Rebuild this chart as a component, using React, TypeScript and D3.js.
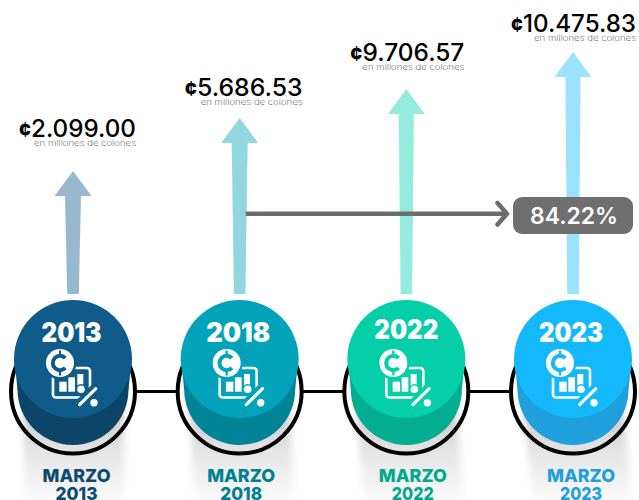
import React from "react";
import * as d3 from "d3";

// data
const years = ["2013", "2018", "2022", "2023"];
const amounts = [2099.0, 5686.53, 9706.57, 10475.83];
const amountLabels = ["2.099.00", "5.686.53", "9.706.57", "10.475.83"];
const unitLabel = "en millones de colones";
const monthLabel = "MARZO";
const growthLabel = "84.22%";

// colours per year
const topColors = ["#0f5c8a", "#02a3ba", "#04cfa9", "#14b9fb"];
const sideColors = ["#0d4568", "#018398", "#02ad90", "#1f9fdc"];
const arrowColors = ["#97b8cd", "#92d7e0", "#96ecdc", "#9ae2fd"];
const monthColors = ["#0d4a70", "#00808f", "#02a88c", "#1f9fdc"];

// layout tweaks, the original infographic is hand placed
const labelLift = [34, 22, 28, 20];
const labelShift = [63, 63, 58, 63];
const labelWidth = [117, 118, 114, 125];
const yearDy = [0, 0, -3, 0];
const yearDx = [-1.5, -1.5, 0, -2];
const monthShift = [3.5, 1.5, 6.5, 8];

const width = 639;
const height = 500;
const discY = 359;
const discR = 59;
const sideY = 389.5;
const sideR = 55.5;
const ringY = 391.5;
const ringR = 62;
const shaftBottom = 294;

const x = d3.scalePoint<string>().domain(years).range([73, 573]);
// arrows in the source are not to scale, so this is piecewise
const tipY = d3.scaleLinear().domain(amounts).range([171, 118, 89, 52]);
const line = d3.line();

function arrowPath(cx: number, tip: number, i: number) {
  const headH = 25;
  const headW = 18.5;
  const topW = i === 2 || i === 3 ? 7.6 : 8;
  const botW = 5.8;
  return (
    line([
      [cx, tip],
      [cx + headW, tip + headH],
      [cx + topW, tip + headH],
      [cx + botW, shaftBottom],
      [cx - botW, shaftBottom],
      [cx - topW, tip + headH],
      [cx - headW, tip + headH],
    ]) + "Z"
  );
}

function Icon({ color }: { color: string }) {
  // coin + chart + percent, centred on the disc
  const coinC = d3.arc()({
    innerRadius: 5.2,
    outerRadius: 9.2,
    startAngle: Math.PI / 2 + 0.75,
    endAngle: Math.PI * 2.5 - 0.75,
  } as any) as string;
  return (
    <g>
      <rect x={-20} y={9} width={37} height={29.5} rx={3} fill="none" stroke="#fff" strokeWidth={2.6} />
      <path d={line([[7, 44], [24, 27]]) as string} stroke={color} strokeWidth={9} />
      <rect x={-13.7} y={22.7} width={7.4} height={10} fill="#fff" />
      <rect x={-4.7} y={18.3} width={6.7} height={14.4} fill="#fff" />
      <rect x={4.3} y={15} width={6} height={12} fill="#fff" />
      <circle cx={8} cy={30.3} r={5.4} fill={color} />
      <circle cx={8} cy={30.3} r={3.8} fill="#fff" />
      <path d={line([[6.6, 45.6], [22.8, 29.6]]) as string} stroke="#fff" strokeWidth={3.2} strokeLinecap="round" />
      <circle cx={21} cy={43.7} r={3.7} fill="#fff" />
      <circle cx={-13} cy={4} r={16.5} fill={color} />
      <circle cx={-13} cy={4} r={14} fill="#fff" />
      <path d={coinC} fill={color} transform="translate(-13,4)" />
      <rect x={-14.1} y={-8.5} width={2.2} height={4} fill={color} />
      <rect x={-14.1} y={12.5} width={2.2} height={4} fill={color} />
    </g>
  );
}

export default function App() {
  const font = "Inter, 'Noto Sans', sans-serif";
  const connector = d3.pairs(years);
  return (
    <svg
      width={width}
      height={height}
      viewBox={`0 0 ${width} ${height}`}
      style={{ position: "absolute", left: 0, top: 0, display: "block", background: "#fff" }}
    >
      <defs>
        <linearGradient id="shade" x1="0" y1="0" x2="0" y2="1">
          <stop offset="0" stopColor="#c8c8c8" />
          <stop offset="0.4" stopColor="#e4e4e4" />
          <stop offset="1" stopColor="#ffffff" />
        </linearGradient>
        <filter id="soft" x="-20%" y="-20%" width="140%" height="140%">
          <feGaussianBlur stdDeviation="3.5" />
        </filter>
      </defs>

      {/* connector behind the discs */}
      {connector.map(([a, b]) => (
        <line key={a} x1={x(a)} x2={x(b)} y1={ringY} y2={ringY} stroke="#000" strokeWidth={3} />
      ))}

      {years.map((year, i) => {
        const cx = x(year) as number;
        const tip = tipY(amounts[i]);
        const skew = i * 3;
        return (
          <g key={year}>
            <path d={arrowPath(cx, tip, i)} fill={arrowColors[i]} />

            <circle cx={cx} cy={ringY} r={ringR} fill="#fff" />
            <path
              d={line([
                [cx - 50, 410],
                [cx + 50, 410],
                [cx + 52 + skew, 510],
                [cx - 48 + skew, 510],
              ]) + "Z"}
              fill="url(#shade)"
              filter="url(#soft)"
            />
            <circle cx={cx} cy={ringY} r={ringR} fill="none" stroke="#000" strokeWidth={4} />

            <circle cx={cx} cy={sideY} r={sideR} fill={sideColors[i]} />
            <path
              d={line([
                [cx - discR + 0.5, discY],
                [cx + discR - 0.5, discY],
                [cx + sideR, sideY],
                [cx - sideR, sideY],
              ]) + "Z"}
              fill={sideColors[i]}
            />
            <circle cx={cx} cy={discY} r={discR} fill={topColors[i]} />

            <text
              x={cx + yearDx[i]}
              y={342 + yearDy[i]}
              textAnchor="middle"
              fontFamily={font}
              fontWeight={900}
              fontSize={26.5}
              fill="#fff"
              textLength={i === 0 ? 60 : 64}
              lengthAdjust="spacingAndGlyphs"
            >
              {year}
            </text>
            <g transform={`translate(${cx},${discY})`}>
              <Icon color={topColors[i]} />
            </g>

            <text
              x={cx + labelShift[i]}
              y={tip - labelLift[i]}
              textAnchor="end"
              fontFamily={font}
              fontWeight={500}
              fontSize={24}
              fill="#000"
              textLength={labelWidth[i]}
              lengthAdjust="spacingAndGlyphs"
            >
              <tspan fontWeight={800} fontSize={20}>¢</tspan>
              {amountLabels[i]}
            </text>
            <text
              x={cx + labelShift[i]}
              y={tip - labelLift[i] + 9}
              textAnchor="end"
              fontFamily={font}
              fontWeight={200}
              fontSize={8}
              fill="#333"
              textLength={102}
              lengthAdjust="spacingAndGlyphs"
            >
              {unitLabel}
            </text>

            <text
              x={cx + monthShift[i]}
              y={481.5}
              textAnchor="middle"
              fontFamily={font}
              fontWeight={800}
              fontSize={17.5}
              fill={monthColors[i]}
              textLength={68}
              lengthAdjust="spacingAndGlyphs"
            >
              {monthLabel}
            </text>
            <text
              x={cx + monthShift[i]}
              y={499.5}
              textAnchor="middle"
              fontFamily={font}
              fontWeight={800}
              fontSize={17.5}
              fill={monthColors[i]}
              textLength={42}
              lengthAdjust="spacingAndGlyphs"
            >
              {year}
            </text>
          </g>
        );
      })}

      {/* growth arrow between 2018 and 2023 */}
      <path
        d={line([[(x("2018") as number) + 6, 213.7], [505, 213.7]]) as string}
        stroke="#6d6d6d"
        strokeWidth={4.5}
        fill="none"
      />
      <path
        d={line([[497.5, 203], [507, 213.7], [497.5, 224.5]]) as string}
        stroke="#6d6d6d"
        strokeWidth={4.5}
        strokeLinecap="round"
        strokeLinejoin="round"
        fill="none"
      />
      <rect x={513} y={197} width={120} height={37} rx={9} fill="#6f6f6f" />
      <text
        x={574}
        y={223.5}
        textAnchor="middle"
        fontFamily={font}
        fontWeight={600}
        fontSize={22.5}
        fill="#fff"
        textLength={88}
        lengthAdjust="spacingAndGlyphs"
      >
        {growthLabel}
      </text>
    </svg>
  );
}
